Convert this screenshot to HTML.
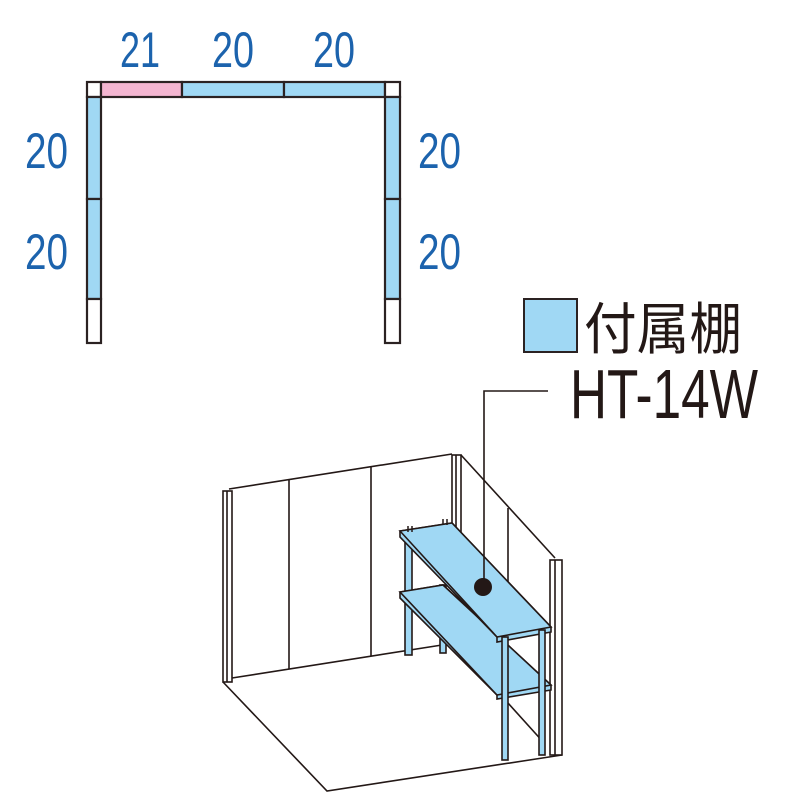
<!DOCTYPE html>
<html><head><meta charset="utf-8"><style>html,body{margin:0;padding:0;background:#fff}svg{display:block}</style></head>
<body>
<svg width="800" height="800" viewBox="0 0 800 800" xmlns="http://www.w3.org/2000/svg">
<g stroke="#2b2222" stroke-width="2.2">
<rect x="87" y="82" width="14" height="15" fill="#fff"/>
<rect x="101" y="82" width="81" height="15" fill="#f4b5d0"/>
<rect x="182" y="82" width="102" height="15" fill="#a0d8f4"/>
<rect x="284" y="82" width="101" height="15" fill="#a0d8f4"/>
<rect x="385" y="82" width="15" height="15" fill="#fff"/>
<rect x="87" y="97" width="14" height="102" fill="#a0d8f4"/>
<rect x="87" y="199" width="14" height="100" fill="#a0d8f4"/>
<rect x="87" y="299" width="14" height="44" fill="#fff"/>
<rect x="385" y="97" width="15" height="102" fill="#a0d8f4"/>
<rect x="385" y="199" width="15" height="100" fill="#a0d8f4"/>
<rect x="385" y="299" width="15" height="44" fill="#fff"/>
</g>
<g font-family="Liberation Sans, sans-serif" font-size="50" fill="#1c63ad">
<text x="120" y="67" textLength="40" lengthAdjust="spacingAndGlyphs">21</text>
<text x="212" y="67" textLength="42" lengthAdjust="spacingAndGlyphs">20</text>
<text x="313" y="67" textLength="42" lengthAdjust="spacingAndGlyphs">20</text>
<text x="25" y="168" textLength="43" lengthAdjust="spacingAndGlyphs">20</text>
<text x="25" y="269" textLength="43" lengthAdjust="spacingAndGlyphs">20</text>
<text x="418" y="168" textLength="43" lengthAdjust="spacingAndGlyphs">20</text>
<text x="418" y="269" textLength="43" lengthAdjust="spacingAndGlyphs">20</text>
</g>
<rect x="524" y="299" width="53" height="53" fill="#a0d8f4" stroke="#2b2222" stroke-width="2"/>
<text x="584" y="349" font-family="Liberation Sans, 'Noto Sans CJK JP', sans-serif" font-size="56" fill="#231816" textLength="158" lengthAdjust="spacingAndGlyphs">付属棚</text>
<text x="570" y="418" font-family="Liberation Sans, sans-serif" font-size="70" fill="#231816" textLength="188" lengthAdjust="spacingAndGlyphs">HT-14W</text>
<g fill="none" stroke="#231816" stroke-width="1.6">
<!-- back wall -->
<polyline points="229,489 452,454"/>
<polyline points="232,678 442,645"/>
<line x1="289" y1="479" x2="289" y2="669"/>
<line x1="371" y1="467" x2="371" y2="656"/>
<rect x="223" y="491" width="9" height="191" fill="#fff"/>
<line x1="227" y1="491" x2="227" y2="682"/>
<!-- corner post -->
<rect x="452" y="455" width="9" height="80" fill="#fff"/>
<line x1="456" y1="455" x2="456" y2="535"/>
<!-- right wall -->
<line x1="461" y1="455" x2="555" y2="558"/>
<line x1="508" y1="508" x2="508" y2="640"/>
<line x1="508" y1="703" x2="545" y2="744"/>
<!-- floor -->
<polyline points="223,682 327,791 562,755"/>
<!-- right post -->
<rect x="550" y="560" width="12" height="195" fill="#fff"/>
<line x1="555" y1="560" x2="555" y2="755"/>
</g>
<!-- shelf -->
<g stroke="#231816" stroke-width="1.6" fill="#a0d8f4">
<rect x="405" y="535" width="7" height="120"/>
<rect x="440" y="585" width="6" height="68"/>
<polygon points="400,592 443,585 551,685 551,690 497,699 497,695 400,598"/>
<polygon points="400,592 443,585 551,685 497,695"/>
<polygon points="400,531 452,523 551,627 551,632 497,642 497,637 400,537"/>
<polygon points="400,531 452,523 551,627 497,637"/>
<rect x="502" y="637" width="6" height="123"/>
<rect x="539" y="630" width="6" height="125"/>
</g>
<line x1="408" y1="526" x2="408" y2="532" stroke="#231816" stroke-width="1.5"/>
<line x1="412" y1="526" x2="412" y2="532" stroke="#231816" stroke-width="1.5"/>
<line x1="443" y1="519" x2="443" y2="525" stroke="#231816" stroke-width="1.5"/>
<line x1="447" y1="519" x2="447" y2="525" stroke="#231816" stroke-width="1.5"/>
<polyline points="548,391 484,391 484,587" fill="none" stroke="#231816" stroke-width="1.6"/>
<circle cx="483" cy="587" r="9" fill="#231816"/>
</svg>
</body></html>
